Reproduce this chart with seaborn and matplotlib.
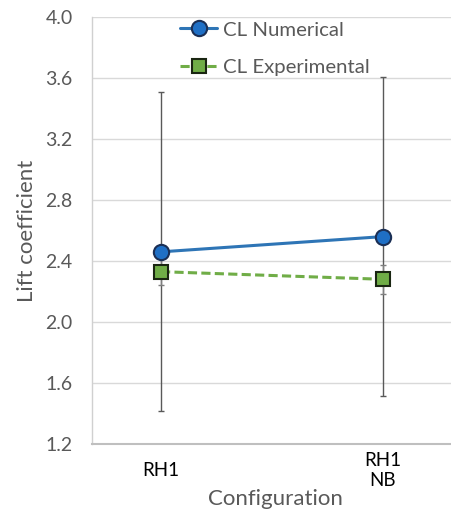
import matplotlib
matplotlib.use("Agg")
import matplotlib.pyplot as plt
import seaborn as sns
import pandas as pd
import numpy as np

categories = ["RH1", "RH1\nNB"]
cl_numerical = [2.46, 2.56]
cl_experimental = [2.33, 2.28]
err_numerical = [1.045, 1.045]
err_experimental = [0.09, 0.095]
yticks = [1.2, 1.6, 2.0, 2.4, 2.8, 3.2, 3.6, 4.0]

sns.set_theme(style="white")
plt.rcParams['font.family'] = ['Lato', 'DejaVu Sans']

df = pd.DataFrame({
    "Configuration": categories * 2,
    "CL": cl_numerical + cl_experimental,
    "Series": ["CL Numerical"] * 2 + ["CL Experimental"] * 2,
})

fig = plt.figure(figsize=(4.52, 5.15), dpi=100)
ax = fig.add_axes([92/452, 71/515, 360/452, 427/515])

xpos = np.arange(len(categories))
ax.errorbar(xpos, cl_numerical, yerr=err_numerical, fmt='none', ecolor='#595959',
            elinewidth=1.0, capsize=2.5, capthick=1.0, zorder=2)
ax.errorbar(xpos, cl_experimental, yerr=err_experimental, fmt='none', ecolor='#7f7f7f',
            elinewidth=1.0, capsize=2.5, capthick=1.0, zorder=2)

sns.lineplot(data=df, x="Configuration", y="CL", hue="Series", style="Series",
             palette={"CL Numerical": "#2E75B6", "CL Experimental": "#70AD47"},
             markers={"CL Numerical": "o", "CL Experimental": "s"},
             dashes={"CL Numerical": "", "CL Experimental": (3, 1.4)},
             linewidth=2.2, markersize=11, ax=ax, zorder=3, sort=False)

for line in ax.get_lines():
    if line.get_marker() == 'o':
        line.set_markerfacecolor('#1F6FC5')
        line.set_markeredgecolor('#1B2F55')
        line.set_markeredgewidth(1.5)
        line.set_markersize(11)
    elif line.get_marker() == 's':
        line.set_markerfacecolor('#70AD47')
        line.set_markeredgecolor('#1A2612')
        line.set_markeredgewidth(1.5)
        line.set_markersize(10.5)

ax.set_ylim(1.2, 4.0)
ax.set_xlim(-0.311, 1.311)
ax.set_yticks(yticks)
ax.set_yticklabels([f"{v:.1f}" for v in yticks])
ax.set_xticks(xpos)
ax.set_xticklabels(categories)
ax.grid(axis='y', color='#D9D9D9', linewidth=1.0)
ax.grid(axis='x', visible=False)
ax.set_axisbelow(True)

for s in ['top', 'right']:
    ax.spines[s].set_visible(False)
ax.spines['left'].set_color('#D0D0D0')
ax.spines['left'].set_linewidth(1.0)
ax.spines['bottom'].set_color('#BFBFBF')
ax.spines['bottom'].set_linewidth(1.5)

ax.tick_params(axis='y', length=0, pad=14, labelsize=14, labelcolor='#595959')
ax.tick_params(axis='x', length=0, pad=19, labelsize=13.5, labelcolor='#000000')
for lbl in ax.get_xticklabels():
    lbl.set_va('center')
    lbl.set_multialignment('center')

ax.set_ylabel("Lift coefficient", fontsize=16, color='#595959', labelpad=6)
ax.set_xlabel("Configuration", fontsize=16, color='#595959')
ax.xaxis.set_label_coords(0.51, -0.105)
ax.xaxis.label.set_va('top')

handles, labels = ax.get_legend_handles_labels()
leg = ax.legend(handles, labels, loc='upper left', bbox_to_anchor=(0.245, 0.99),
                frameon=False, fontsize=14.7, handlelength=1.8, handletextpad=0.3,
                labelspacing=0.98, borderpad=0, borderaxespad=0)
for t in leg.get_texts():
    t.set_color('#595959')

fig.savefig("out.png", dpi=100)
